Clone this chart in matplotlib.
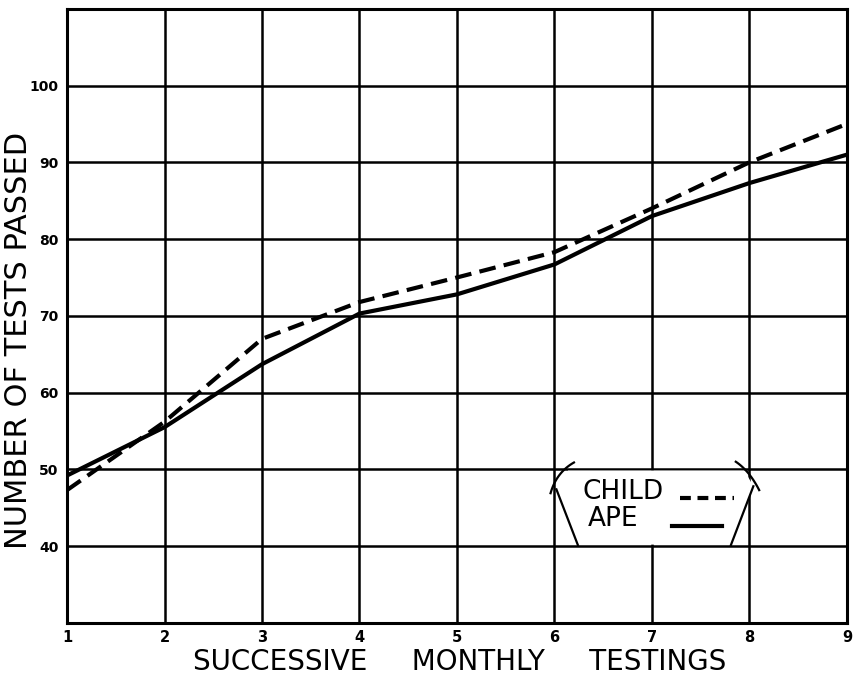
import numpy as np
import matplotlib
matplotlib.use('Agg')
from matplotlib import pyplot as plt
from matplotlib.patches import Polygon

# monthly test results
months = [1, 2, 3, 4, 5, 6, 7, 8, 9]
child = [47.3, 56.2, 67.0, 71.8, 75.0, 78.3, 84.0, 90.0, 95.0]
ape = [49.2, 55.5, 63.7, 70.3, 72.8, 76.7, 83.0, 87.3, 91.0]
y_ticks = [40, 50, 60, 70, 80, 90, 100]


def bracket(p0, p1, p2, n=30):
    # quadratic curve for the legend's bracket ends
    t = np.linspace(0, 1, n)[:, None]
    p0, p1, p2 = map(np.array, (p0, p1, p2))
    pts = (1 - t) ** 2 * p0 + 2 * (1 - t) * t * p1 + t ** 2 * p2
    return pts[:, 0], pts[:, 1]


fig = plt.figure(figsize=(8.58, 6.76), dpi=100)
ax = fig.add_axes([0.0781, 0.0785, 0.9090, 0.9085])

ax.set_xlim(1, 9)
ax.set_ylim(30, 110)

# grid drawn as heavy ink lines
for x in months:
    ax.axvline(x, color='black', lw=1.8, zorder=1)
for y in range(30, 111, 10):
    ax.axhline(y, color='black', lw=1.8, zorder=1)

for s in ax.spines.values():
    s.set_linewidth(2.2)
    s.set_zorder(5)

ax.plot(months, child, color='black', lw=3.0, dashes=(4.0, 2.0),
        solid_capstyle='butt', zorder=3)
ax.plot(months, ape, color='black', lw=3.0, zorder=3)

ax.set_xticks(months)
ax.set_xticklabels([str(m) for m in months], fontsize=10.5, fontweight='bold')
ax.set_yticks(y_ticks)
ax.set_yticklabels([str(v) for v in y_ticks], fontsize=10, fontweight='bold')
ax.tick_params(axis='x', length=0, pad=5)
ax.tick_params(axis='y', length=0, pad=6)

fig.text(0.536, 0.009, 'SUCCESSIVE     MONTHLY     TESTINGS', fontsize=20,
         ha='center', va='baseline')
fig.text(0.021, 0.497, 'NUMBER OF TESTS PASSED', fontsize=22,
         rotation=90, ha='center', va='center')

# hand-drawn legend box
box = Polygon([(6.24, 40.2), (6.02, 47.4), (6.14, 49.85), (7.95, 49.85),
               (8.04, 47.8), (7.81, 40.2)], closed=True,
              facecolor='white', edgecolor='none', zorder=2)
ax.add_patch(box)
ax.plot([6.24, 6.02], [40.15, 47.4], color='black', lw=1.6, zorder=4)
bx, by = bracket((5.96, 46.9), (6.02, 49.6), (6.20, 50.9))
ax.plot(bx, by, color='black', lw=1.6, zorder=4)
ax.plot([7.81, 8.04], [40.15, 47.8], color='black', lw=1.6, zorder=4)
bx, by = bracket((8.10, 47.3), (8.00, 49.8), (7.86, 51.0))
ax.plot(bx, by, color='black', lw=1.6, zorder=4)

ax.text(6.29, 47.0, 'CHILD', fontsize=19, va='center', ha='left', zorder=4)
ax.text(6.34, 43.5, 'APE', fontsize=19, va='center', ha='left', zorder=4)
ax.plot([7.29, 7.84], [46.3, 46.3], color='black', lw=3.0,
        dashes=(2.6, 1.6), zorder=4)
ax.plot([7.21, 7.72], [42.6, 42.6], color='black', lw=3.0, zorder=4)

fig.savefig('out.png', dpi=100, facecolor='white')
